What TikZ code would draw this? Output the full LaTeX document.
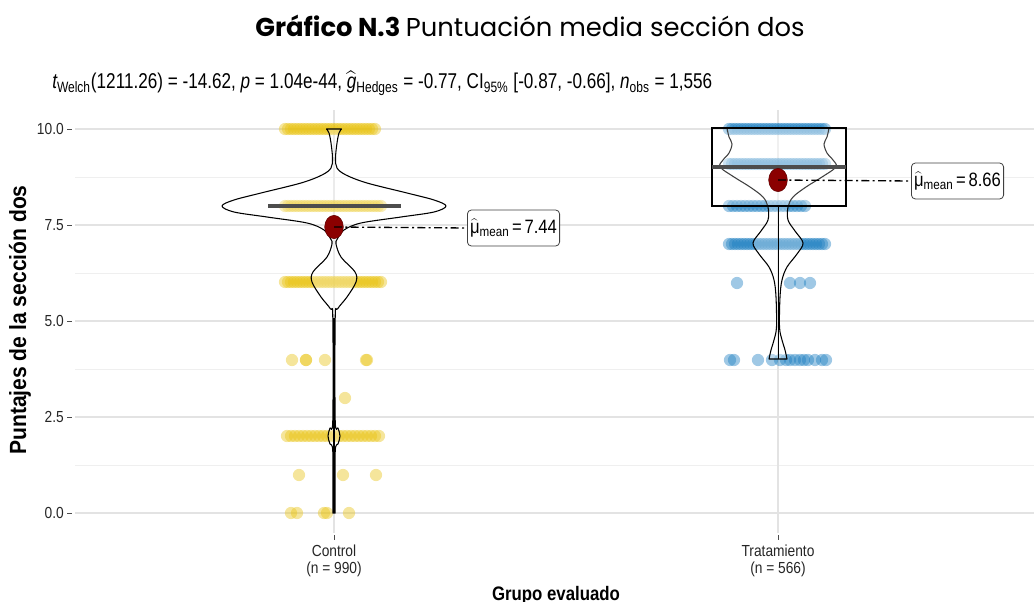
\documentclass[tikz,border=0pt]{standalone}
\usepackage{fontspec}
\setmainfont{Liberation Sans}
\newfontfamily\titlefont{Poppins}
\usetikzlibrary{shapes.geometric}
\definecolor{jcoY}{HTML}{E8C210}
\definecolor{jcoB}{HTML}{1A7DC0}
\definecolor{meanred}{HTML}{8B0000}
\definecolor{medgray}{HTML}{4D4D4D}
\definecolor{gridmaj}{HTML}{E3E3E3}
\definecolor{gridmin}{HTML}{EFEFEF}
\newcommand{\mhat}{$\widehat{\mbox{μ}}$}
\newcommand{\cnd}[1]{\scalebox{0.86}[1]{#1}}
\newcommand{\twol}[2]{\cnd{\begin{tabular}{@{}c@{}}#1\\[-1.2pt]#2\end{tabular}}}
\tikzset{
  grmaj/.style={draw=gridmaj, line width=1.1pt},
  grmin/.style={draw=gridmin, line width=0.7pt},
  ticklbl/.style={font=\fontsize{12}{14}\selectfont, text=black!85, inner sep=0pt},
  tickmark/.style={draw=black!70, line width=0.6pt},
  violin/.style={draw=black, line width=0.8pt, fill=white, fill opacity=0.3, line join=round},
  medline/.style={draw=medgray, line width=2.6pt},
  meanpt/.style={ellipse, draw=meanred!70!black, line width=0.4pt, fill=meanred, minimum width=14pt, minimum height=17.5pt, inner sep=0pt},
  meanlbl/.style={draw=black!75, rounded corners=3pt, fill=white, line width=0.6pt, inner xsep=2pt, inner ysep=0pt, minimum height=27pt, minimum width=68pt, font=\fontsize{14.5}{16}\selectfont},
  dashdot/.style={draw=black, line width=1pt, dash pattern=on 6pt off 2.5pt on 1.5pt off 2.5pt},
}
\newcommand{\ptY}[2]{\fill[jcoY, fill opacity=0.42] (#1,#2) circle[radius=4.6pt];}
\newcommand{\ptB}[2]{\fill[jcoB, fill opacity=0.42] (#1,#2) circle[radius=4.6pt];}
\begin{document}
\begin{tikzpicture}[x=0.75pt,y=-0.75pt]
\useasboundingbox (0,0) rectangle (1034,602);
% title
\node[anchor=base, inner sep=0pt] (title) at (530,37) {\resizebox{412pt}{!}{\titlefont\bfseries Gráfico N.3 \mdseries Puntuación media sección dos}};
% subtitle
\node[anchor=base west, inner sep=0pt] (sub) at (52,89) {\resizebox{495pt}{!}{\scalebox{0.8}[1]{\itshape t\upshape\textsubscript{Welch}(1211.26) = -14.62, \itshape p \upshape = 1.04e-44, $\widehat{\mbox{\itshape g}}$\textsubscript{Hedges} = -0.77, CI\textsubscript{95\%} [-0.87, -0.66], \itshape n\upshape\textsubscript{obs} = 1,556}}};
% grid
\foreach \yy in {465,369,273,177} {\draw[grmin] (75,\yy) -- (1034,\yy);}
\foreach \yy in {513,417,321,225,129} {\draw[grmaj] (75,\yy) -- (1034,\yy);}
\foreach \xx in {334,778} {\draw[grmaj] (\xx,110) -- (\xx,533);}
% y ticks
\foreach \yy/\lab in {513/0.0,417/2.5,321/5.0,225/7.5,129/10.0} {
  \draw[tickmark] (67,\yy) -- (72,\yy);
  \node[ticklbl, anchor=east] at (64,\yy) {\cnd{\lab}};
}
% x ticks
\draw[tickmark] (334,535) -- (334,540);
\draw[tickmark] (778,535) -- (778,540);
\node[ticklbl, anchor=north] (xc) at (334,543) {\twol{Control}{(n = 990)}};
\node[ticklbl, anchor=north] (xt) at (778,543) {\twol{Tratamiento}{(n = 566)}};
% axis titles
\node[anchor=base, inner sep=0pt] (xlab) at (556,600) {\resizebox{96pt}{!}{\scalebox{0.86}[1]{\bfseries Grupo evaluado}}};
\node[rotate=90, anchor=base, inner sep=0pt] (ylab) at (26,320) {\resizebox{202pt}{!}{\scalebox{0.9}[1]{\bfseries Puntajes de la sección dos}}};
% ---- Control points
\foreach \xx in {285,288,...,375} {\ptY{\xx}{129}}
\foreach \xx in {285,288,...,383} {\ptY{\xx}{206}}
\foreach \xx in {285,288,...,383} {\ptY{\xx}{282}}
\foreach \xx in {292,306,306,325,366,367} {\ptY{\xx}{360}}
\ptY{345}{398}
\foreach \xx in {287,291,...,380} {\ptY{\xx}{436}}
\foreach \xx in {299,343,376} {\ptY{\xx}{475}}
\foreach \xx in {291,297,324,327,349} {\ptY{\xx}{513}}
% ---- Treatment points
\foreach \xx in {729,732,...,827} {\ptB{\xx}{129}}
\foreach \xx in {729,732,...,827} {\ptB{\xx}{164}}
\foreach \xx in {729,733,...,807} {\ptB{\xx}{206}}
\foreach \xx in {729,732,...,827} {\ptB{\xx}{244}}
\foreach \xx in {737,790,800,810} {\ptB{\xx}{283}}
\foreach \xx in {730,734,758,772,780,786,790,795,800,804,808,815,822,826} {\ptB{\xx}{360}}
% ---- Control violin
\draw[violin] plot[smooth, tension=0.55] coordinates {(341.5,129) (339,133) (337,143) (335.5,158) (337,168) (346,175) (367,183) (407,193) (434,200) (446,206) (434,212) (401,217) (361,223) (344,230) (337.3,239) (336,244) (341,257) (355,272) (356,282) (347,297) (337.5,309) (335.2,318) (335.2,420) (338,428) (340,436) (338,444) (335.2,452) (335.2,513)}
  -- plot[smooth, tension=0.55] coordinates {(332.8,513) (332.8,452) (330,444) (328,436) (330,428) (332.8,420) (332.8,318) (330.5,309) (321,297) (312,282) (313,272) (327,257) (332,244) (330.7,239) (324,230) (307,223) (267,217) (234,212) (222,206) (234,200) (261,193) (301,183) (322,175) (331,168) (332.5,158) (331,143) (329,133) (326.5,129)} -- cycle;
\draw[black, line width=1.3pt] (334,318) -- (334,513);
\draw[medline] (268,206) -- (401,206);
% ---- Treatment violin
\draw[violin] plot[smooth, tension=0.55] coordinates {(829,128) (827,137) (824,144) (827,153) (833,160) (836,167) (822,177) (806,187) (793,197) (788,207) (788,220) (795,231) (803,243) (797,254) (787,267) (782,280) (780,297) (779.5,327) (782,340) (785,350) (787,359)}
  -- plot[smooth, tension=0.55] coordinates {(769,359) (771,350) (774,340) (776.5,327) (776,297) (774,280) (769,267) (759,254) (753,243) (761,231) (768,220) (768,207) (763,197) (750,187) (734,177) (720,167) (723,160) (729,153) (732,144) (729,137) (727,128)} -- cycle;
% box
\draw[black, line width=0.8pt, fill=white, fill opacity=0.25] (712,128) rectangle (846,206);
\draw[black, line width=0.7pt] (778,206) -- (778,359);
\draw[medline] (712,167) -- (846,167);
% means
\node[meanpt] (mC) at (334,227) {};
\node[meanpt] (mT) at (778,180) {};
\node[meanlbl, anchor=west] (lC) at (467,228) {\cnd{\mhat\textsubscript{mean}\,=\,7.44}};
\node[meanlbl, anchor=west] (lT) at (911,181) {\cnd{\mhat\textsubscript{mean}\,=\,8.66}};
\draw[dashdot] (mC.center) -- (lC.west);
\draw[dashdot] (mT.center) -- (lT.west);
\end{tikzpicture}
\end{document}
